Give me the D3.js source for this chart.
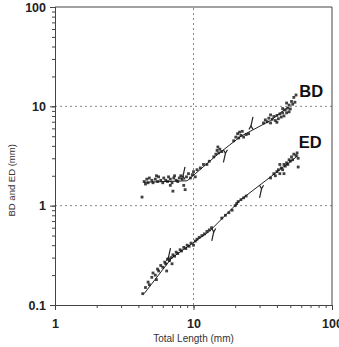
<!DOCTYPE html>
<html>
<head>
<meta charset="utf-8">
<script src="https://cdn.jsdelivr.net/npm/d3@7"></script>
<style>
  body { margin: 0; background: #fff; }
  svg { font-family: "Liberation Sans", Arial, sans-serif; }
</style>
</head>
<body>
<div id="chart"></div>
<script>
// tick values for both log axes
var xTicks = [1, 10, 100];
var yTicks = [0.1, 1, 10, 100];
var gridX = [10];
var gridY = [1, 10];

// body depth (BD) measurements, [total length, BD]
var bdPoints = [
  [4.25,1.22],[4.4,1.75],[4.5,1.65],[4.6,1.85],[4.7,1.7],[4.8,1.9],[5.0,1.8],[5.1,1.7],
  [5.3,1.85],[5.4,2.0],[5.5,1.75],[5.6,1.95],[5.8,1.8],[6.0,1.7],[6.1,1.9],[6.3,1.8],
  [6.5,1.75],[6.6,1.95],[6.8,1.85],[6.8,1.6],[7.0,1.7],[7.1,1.4],[7.2,1.9],[7.3,2.0],
  [7.5,1.8],[7.7,1.75],[7.9,1.9],[8.1,2.0],[8.3,1.85],[8.5,1.6],[8.7,1.45],[8.9,1.95],
  [9.2,2.1],[9.5,1.9],[9.8,2.05],[10.0,2.2],[10.3,1.95],[10.6,2.3],[11.2,2.4],[11.8,2.6],
  [12.5,2.6],[13.0,2.8],[14.0,3.1],[14.5,3.3],[14.8,3.6],[15.2,3.4],[15.5,3.7],[15.0,3.9],
  [16.0,3.5],[19.5,4.5],[20.2,4.9],[20.8,5.3],[21.2,4.8],[21.5,5.5],[22.0,5.1],[22.5,5.6],
  [23.0,4.9],[24.0,5.2],[25.0,5.3],[32,6.8],[33,7.3],[34,7.0],[35,7.6],[36,6.8],[36,8.2],
  [37,7.4],[38,7.9],[39,7.2],[40,8.1],[40,6.9],[41,7.5],[42,8.4],[43,7.8],[44,8.6],
  [44,9.5],[45,8.0],[46,9.2],[47,8.6],[47,10.8],[48,9.6],[49,10.3],[49,8.8],[50,9.4],
  [51,11.2],[52,10.5],[53,12.3],[54,11.0],[55,13.0]
];

// eye diameter (ED) measurements, [total length, ED]
var edPoints = [
  [4.3,0.13],[4.5,0.15],[4.7,0.17],[4.8,0.16],[5.0,0.19],[5.1,0.21],[5.3,0.2],[5.4,0.18],
  [5.5,0.23],[5.6,0.22],[5.8,0.25],[6.0,0.24],[6.2,0.27],[6.3,0.26],[6.4,0.22],[6.5,0.29],
  [6.7,0.28],[6.9,0.3],[7.0,0.26],[7.1,0.32],[7.3,0.31],[7.5,0.34],[7.7,0.33],[8.0,0.36],
  [8.2,0.35],[8.5,0.38],[8.8,0.37],[9.0,0.4],[9.3,0.39],[9.6,0.42],[10.0,0.4],[10.3,0.44],
  [10.6,0.46],[11.0,0.48],[11.5,0.5],[12.0,0.52],[12.5,0.55],[13.0,0.57],[13.5,0.6],
  [16,0.75],[17,0.8],[18,0.85],[19,0.9],[20,1.0],[20.5,1.05],[21,1.1],[22,1.15],[23,1.2],
  [24,1.25],[36,1.9],[38,2.1],[39,2.0],[40,2.2],[41,2.3],[42,2.1],[42,2.6],[43,2.4],
  [44,2.3],[45,2.6],[45,2.1],[46,2.5],[47,2.7],[48,2.6],[49,2.9],[50,2.8],[51,3.1],
  [52,2.9],[53,3.3],[55,3.2],[56,3.4],[57,3.0],[57,2.45]
];

// fitted piecewise regression lines
var bdFit = [[4.4,1.72],[9.0,1.78],[15,3.3],[22,5.0],[36,7.2],[48,9.8]];
var edFit = [[4.4,0.13],[7,0.3],[13,0.55],[22,1.15],[42,2.3],[57,3.2]];

// arrows marking breakpoints: [total length, series, side]
var arrows = [
  [8.4, "BD", "above"], [17, "BD", "below"], [26, "BD", "above"],
  [6.6, "ED", "above"], [14, "ED", "below"], [31, "ED", "below"]
];

var seriesLabels = [["BD", 58, 12.5], ["ED", 57.5, 3.8]];

var width = 339, height = 347;

var svg = d3.select("#chart").append("svg")
  .attr("width", width)
  .attr("height", height);

var x = d3.scaleLog().domain([1, 100]).range([55, 332]);
var y = d3.scaleLog().domain([0.1, 100]).range([305, 7]);

var fmt = function(d) { return String(d); };

// dotted grid
svg.selectAll(".gy").data(gridY).enter().append("line")
  .attr("x1", x.range()[0]).attr("x2", x.range()[1])
  .attr("y1", function(d) { return y(d); }).attr("y2", function(d) { return y(d); })
  .attr("stroke", "#888").attr("stroke-width", 1).attr("stroke-dasharray", "2,3");
svg.selectAll(".gx").data(gridX).enter().append("line")
  .attr("y1", y.range()[0]).attr("y2", y.range()[1])
  .attr("x1", function(d) { return x(d); }).attr("x2", function(d) { return x(d); })
  .attr("stroke", "#888").attr("stroke-width", 1).attr("stroke-dasharray", "2,3");

// frame on top and right
svg.append("path")
  .attr("d", "M" + x.range()[0] + "," + y.range()[1] + "H" + x.range()[1] + "V" + y.range()[0])
  .attr("fill", "none").attr("stroke", "#444").attr("stroke-width", 1);

// minor + major ticks
var xMinor = d3.axisBottom(x).tickValues(x.ticks()).tickSize(3).tickFormat("");
var yMinor = d3.axisLeft(y).tickValues(y.ticks()).tickSize(3).tickFormat("");
svg.append("g").attr("transform", "translate(0," + y.range()[0] + ")").call(xMinor);
svg.append("g").attr("transform", "translate(" + x.range()[0] + ",0)").call(yMinor);

var xAxis = svg.append("g").attr("transform", "translate(0," + y.range()[0] + ")")
  .call(d3.axisBottom(x).tickValues(xTicks).tickSize(5).tickPadding(9).tickFormat(fmt));
var yAxis = svg.append("g").attr("transform", "translate(" + x.range()[0] + ",0)")
  .call(d3.axisLeft(y).tickValues(yTicks).tickSize(5).tickPadding(4).tickFormat(fmt));

svg.selectAll(".domain, .tick line").attr("stroke", "#444");
[xAxis, yAxis].forEach(function(a) {
  a.selectAll("text")
    .attr("font-family", "'Liberation Sans', Arial, sans-serif")
    .attr("font-size", 12.5).attr("font-weight", "bold").attr("fill", "#222");
});

// axis titles
svg.append("text")
  .attr("x", x(10)).attr("y", 342)
  .attr("text-anchor", "middle")
  .attr("font-size", 10).attr("fill", "#333")
  .text("Total Length (mm)");
svg.append("text")
  .attr("transform", "translate(15," + y(1.8) + ") rotate(-90)")
  .attr("text-anchor", "middle")
  .attr("font-size", 9.5).attr("fill", "#333")
  .text("BD and ED (mm)");

// fitted lines
var line = d3.line()
  .x(function(d) { return x(d[0]); })
  .y(function(d) { return y(d[1]); });
[bdFit, edFit].forEach(function(f) {
  svg.append("path").datum(f).attr("d", line)
    .attr("fill", "none").attr("stroke", "#222").attr("stroke-width", 1);
});

// scatter points
[bdPoints, edPoints].forEach(function(pts) {
  svg.append("g").selectAll("rect").data(pts).enter().append("rect")
    .attr("x", function(d) { return x(d[0]) - 1.4; })
    .attr("y", function(d) { return y(d[1]) - 1.4; })
    .attr("width", 2.8).attr("height", 2.8)
    .attr("fill", "#111").attr("opacity", 0.8);
});

// breakpoint arrows
function fitAt(fit, v) {
  var lx = fit.map(function(d) { return Math.log(d[0]); });
  var ly = fit.map(function(d) { return Math.log(d[1]); });
  var s = d3.scaleLinear().domain(lx).range(ly).clamp(true);
  return Math.exp(s(Math.log(v)));
}
arrows.forEach(function(a) {
  var fit = a[1] === "BD" ? bdFit : edFit;
  var px = x(a[0]);
  var py = y(fitAt(fit, a[0]));
  var dir = a[2] === "above" ? -1 : 1;
  var tipY = py + dir * 5, tailY = py + dir * 14;
  var tipX = px, tailX = px - dir * 2;
  svg.append("line")
    .attr("x1", tailX).attr("y1", tailY).attr("x2", tipX).attr("y2", tipY)
    .attr("stroke", "#222").attr("stroke-width", 1.2);
  svg.append("path")
    .attr("d", "M" + (tipX - 2) + "," + (tipY - dir * 3.5) + "L" + tipX + "," + tipY +
      "L" + (tipX + 2) + "," + (tipY - dir * 3.5))
    .attr("fill", "none").attr("stroke", "#222").attr("stroke-width", 1.2);
});

// series labels
svg.selectAll(".slab").data(seriesLabels).enter().append("text")
  .attr("x", function(d) { return x(d[1]); })
  .attr("y", function(d) { return y(d[2]); })
  .attr("font-size", 16.5).attr("font-weight", "bold").attr("fill", "#111")
  .text(function(d) { return d[0]; });
</script>
</body>
</html>
